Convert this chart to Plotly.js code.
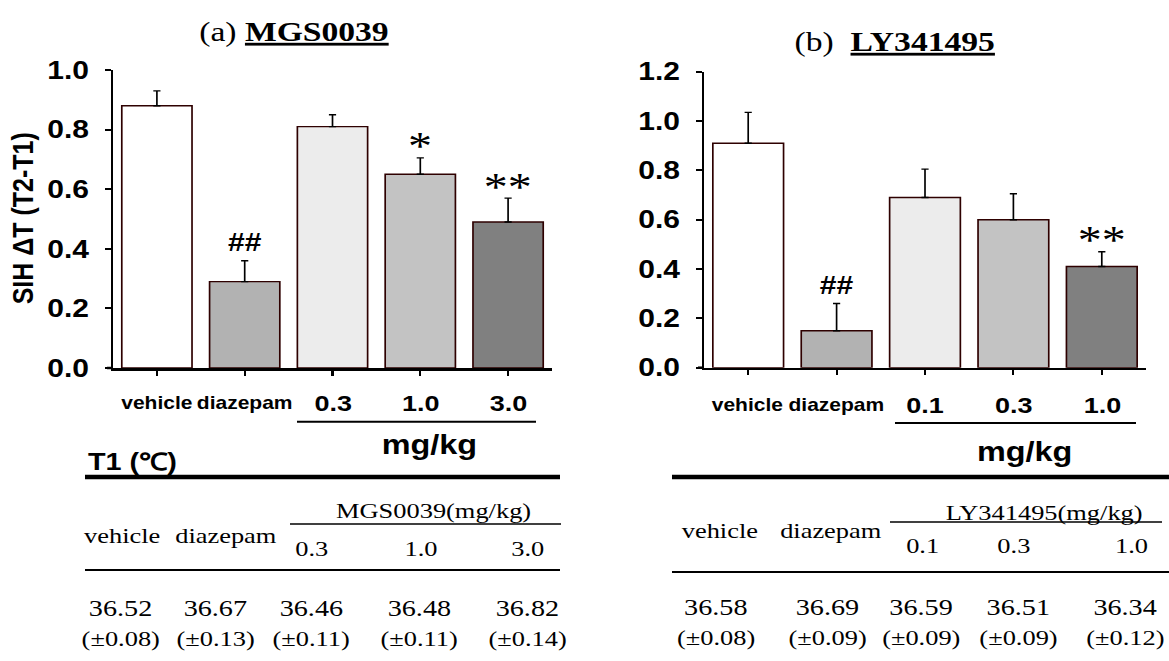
<!DOCTYPE html>
<html><head><meta charset="utf-8">
<script src="https://cdn.plot.ly/plotly-3.0.1.min.js"></script>
<style>
html,body{margin:0;padding:0;background:#fff;overflow:hidden}
#wrap{width:1169px;height:661px;overflow:hidden;position:relative;background:#fff}
#plot{width:974px;height:661px;transform:scaleX(1.2002);transform-origin:0 0}
</style></head>
<body><div id="wrap"><div id="plot"></div></div>
<script>
// ---------------- data ----------------
const catsA = ['vehicle', 'diazepam', '0.3', '1.0', '3.0'];
const valsA = [0.88, 0.29, 0.81, 0.65, 0.49];
const errA  = [0.05, 0.07, 0.04, 0.055, 0.08];
const sigA  = ['', '##', '', '*', '**'];

const catsB = ['vehicle', 'diazepam', '0.1', '0.3', '1.0'];
const valsB = [0.91, 0.15, 0.69, 0.60, 0.41];
const errB  = [0.125, 0.11, 0.115, 0.105, 0.06];
const sigB  = ['', '##', '', '', '**'];

const tableHeadA = ['vehicle', 'diazepam', '0.3', '1.0', '3.0'];
const t1MeanA = ['36.52', '36.67', '36.46', '36.48', '36.82'];
const t1SemA  = ['(±0.08)', '(±0.13)', '(±0.11)', '(±0.11)', '(±0.14)'];
const tableHeadB = ['vehicle', 'diazepam', '0.1', '0.3', '1.0'];
const t1MeanB = ['36.58', '36.69', '36.59', '36.51', '36.34'];
const t1SemB  = ['(±0.08)', '(±0.09)', '(±0.09)', '(±0.09)', '(±0.12)'];

// ---------------- styles / layout helpers ----------------
const W = 1169, H = 661;
const px = x => x / W;
const py = y => 1 - y / H;
const fills = ['#ffffff', '#b2b2b2', '#ececec', '#c3c3c3', '#808080'];
const SANS = 'Liberation Sans, Arial, sans-serif';
const SERIF = 'Liberation Serif, Times New Roman, serif';
const outline = '#2e0000';

function barTrace(cats, vals, errs, xa, ya) {
  return {
    type: 'bar', x: cats, y: vals, xaxis: xa, yaxis: ya, width: 0.8,
    hoverinfo: 'none', showlegend: false,
    marker: {color: fills, line: {color: outline, width: 1.4}},
    error_y: {type: 'data', symmetric: false, array: errs, arrayminus: [0, 0, 0, 0, 0],
              color: '#000', thickness: 1.4, width: 3}
  };
}

const data = [barTrace(catsA, valsA, errA, 'x', 'y'), barTrace(catsB, valsB, errB, 'x2', 'y2')];

function xAx(l, r, cats) {
  return {domain: [px(l), px(r)], type: 'category', categoryorder: 'array', categoryarray: cats,
    range: [-0.5, 4.5], showline: true,
    linewidth: 2.5, linecolor: '#000', ticks: 'outside', ticklen: 5, tickwidth: 1.7,
    tickcolor: '#000', showticklabels: false, showgrid: false, zeroline: false, fixedrange: true};
}
function yAx(top, bottom, max) {
  return {domain: [py(bottom), py(top)], range: [0, max], dtick: 0.2, tick0: 0, tickformat: '.1f',
    showline: true, linewidth: 2, linecolor: '#000', ticks: 'outside', ticklen: 5, tickwidth: 2,
    tickcolor: '#000', ticklabelstandoff: 8, showgrid: false, zeroline: false, fixedrange: true,
    tickfont: {family: SANS, size: 25, weight: 700, color: '#000'}};
}

const annotations = [];
const shapes = [];

function ann(text, x, y, size, family, opts) {
  annotations.push(Object.assign({text, x, y, xref: 'paper', yref: 'paper', showarrow: false,
    xanchor: 'center', yanchor: 'middle', font: {family, size, color: '#000'}}, opts || {}));
}
function hline(x0, x1, y, w) {
  shapes.push({type: 'line', xref: 'paper', yref: 'paper', x0: px(x0), x1: px(x1), y0: py(y), y1: py(y),
    line: {color: '#000', width: w}});
}

// titles
ann('(a) <b><span style="text-decoration:underline">MGS0039</span></b>', px(294), py(31), 28, SERIF);
ann('(b)\u00a0\u00a0<b><span style="text-decoration:underline">LY341495</span></b>', px(895), py(41), 28, SERIF);
// y title
ann('SIH ΔT (T2-T1)', px(22), py(218), 25, SANS, {textangle: -90, font: {family: SANS, size: 25, weight: 700, color: '#000'}});

// category labels + significance marks (x given as category index on the category axis)
function catLabels(cats, vals, errs, sigs, xr, yr, yLab) {
  cats.forEach((c, i) => {
    annotations.push({text: c, x: i, xref: xr, y: py(yLab), yref: 'paper', showarrow: false,
      xanchor: 'center', yanchor: 'middle',
      font: {family: SANS, size: i < 2 ? 17.5 : 22.5, weight: 700, color: '#000'}});
    if (sigs[i]) {
      const hash = sigs[i].startsWith('#');
      annotations.push({text: sigs[i], x: i, xref: xr, y: vals[i] + errs[i], yref: yr, showarrow: false,
        xanchor: 'center', yanchor: 'middle', yshift: hash ? 19 : 12,
        font: hash ? {family: SANS, size: 25, weight: 700, color: '#000'}
                   : {family: SERIF, size: 40, color: '#000'}});
    }
  });
}
catLabels(catsA, valsA, errA, sigA, 'x', 'y', 403);
catLabels(catsB, valsB, errB, sigB, 'x2', 'y2', 405);

// axis overhangs & dose underlines
hline(107, 113, 368, 2.5);
hline(698, 704, 367.7, 2.5);
hline(297, 536, 421.7, 2);
hline(895, 1136, 423, 2);
ann('<b>mg/kg</b>', px(430), py(445), 27, SANS);
ann('<b>mg/kg</b>', px(1025), py(452), 27, SANS);

// ---- tables ----
ann('<b>T1 (℃)</b>', px(133), py(462), 24, SANS);
function table(colX, heads, means, sems, drug, drugX, lx0, lx1, subx0, subx1, yTop, ySub, yHead, yHeadDose, yMid, yDrug, yMean, ySem) {
  hline(lx0, lx1, yTop, 4.5);
  ann(drug, px(drugX), py(yDrug), 22, SERIF);
  hline(subx0, subx1, ySub, 1.6);
  heads.forEach((h, i) => {
    ann(h, px(colX.head[i]), py(i < 2 ? yHead : yHeadDose), 22, SERIF);
  });
  hline(lx0, lx1, yMid, 2);
  means.forEach((m, i) => ann(m, px(colX.vals[i]), py(yMean), 23.5, SERIF));
  sems.forEach((s, i) => ann(s, px(colX.vals[i]), py(ySem), 22, SERIF));
}
table({head: [122, 226, 312, 421, 528], vals: [121, 215, 311, 419, 527]},
      tableHeadA, t1MeanA, t1SemA, 'MGS0039(mg/kg)', 434, 85, 560, 290, 561, 477, 524, 535, 548, 570, 510, 608, 638);
table({head: [720, 830, 923, 1014, 1132], vals: [716, 827, 921, 1018, 1125]},
      tableHeadB, t1MeanB, t1SemB, 'LY341495(mg/kg)', 1044, 672, 1169, 890, 1162, 477, 522, 530, 545, 572, 512, 607, 637);

const layout = {
  width: 974, height: 661, margin: {l: 0, r: 0, t: 0, b: 0},
  paper_bgcolor: '#fff', plot_bgcolor: 'rgba(0,0,0,0)', showlegend: false, bargap: 0.2,
  xaxis: Object.assign(xAx(113, 552, catsA), {anchor: 'y'}),
  yaxis: Object.assign(yAx(70, 368, 1.0), {anchor: 'x'}),
  xaxis2: Object.assign(xAx(704, 1146, catsB), {anchor: 'y2'}),
  yaxis2: Object.assign(yAx(71.7, 367.7, 1.2), {anchor: 'x2'}),
  annotations, shapes
};
Plotly.newPlot('plot', data, layout, {displayModeBar: false, staticPlot: true});
</script>
</body></html>
